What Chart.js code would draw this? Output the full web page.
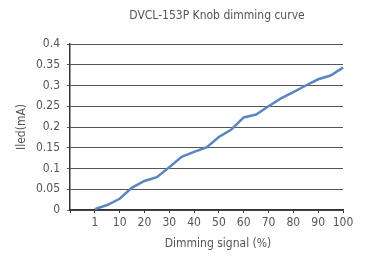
<!DOCTYPE html>
<html lang="en">
<head>
    <meta charset="UTF-8">
    <title>DVCL-153P Knob dimming curve</title>
    <script src="https://cdn.jsdelivr.net/npm/chart.js"></script>
    <style>
        html, body { margin: 0; padding: 0; background: #fff; }
        .chart-container { width: 365px; height: 258px; }
    </style>
</head>
<body>
    <div class="chart-container">
        <canvas id="dimmingChart"></canvas>
    </div>

    <script>
        // Dimming signal (%) and LED current (mA)
        const signalLabels = ['1', '5', '10', '15', '20', '25', '30', '35', '40', '45', '50',
                              '55', '60', '65', '70', '75', '80', '85', '90', '95', '100'];
        const iledValues = [0.002, 0.012, 0.027, 0.054, 0.070, 0.079, 0.103, 0.128, 0.140, 0.151, 0.176,
                            0.194, 0.223, 0.230, 0.250, 0.269, 0.284, 0.300, 0.315, 0.324, 0.343];
        const yTicks = [0, 0.05, 0.1, 0.15, 0.2, 0.25, 0.3, 0.35, 0.4];

        const fontFamily = "'DejaVu Sans Condensed', 'Liberation Sans Narrow', sans-serif";
        const textColor = '#555';

        // axis starts two slots before "1"
        const labels = ['', ''].concat(signalLabels);
        const data = [null, null].concat(iledValues);

        // chart title + x axis title, centred like the original
        const titlesPlugin = {
            id: 'titles',
            afterDraw(chart) {
                const ctx = chart.ctx;
                ctx.save();
                ctx.fillStyle = textColor;
                ctx.textAlign = 'center';
                ctx.textBaseline = 'middle';
                ctx.font = '12px ' + fontFamily;
                ctx.fillText('DVCL-153P Knob dimming curve', 217, 16);
                ctx.fillText('Dimming signal (%)', 218, 244);
                ctx.restore();
            }
        };

        const ctx = document.getElementById('dimmingChart').getContext('2d');
        const dimmingChart = new Chart(ctx, {
            type: 'line',
            data: {
                labels: labels,
                datasets: [{
                    label: 'Iled',
                    data: data,
                    borderColor: '#5a86bf',
                    borderWidth: 2.5,
                    pointRadius: 0,
                    tension: 0,
                    fill: false,
                }]
            },
            plugins: [titlesPlugin],
            options: {
                responsive: true,
                maintainAspectRatio: false,
                animation: false,
                layout: { padding: { top: 44, right: 22, left: 0, bottom: 0 } },
                plugins: {
                    legend: { display: false },
                    tooltip: { enabled: false },
                },
                scales: {
                    x: {
                        offset: false,
                        afterFit(scale) { scale.height = 48; },
                        border: { color: '#333', width: 1.5 },
                        grid: {
                            drawOnChartArea: false,
                            drawTicks: true,
                            tickLength: 3,
                            tickColor: c => (c.index % 2 === 0 ? '#333' : 'rgba(0,0,0,0)'),
                        },
                        ticks: {
                            autoSkip: false,
                            maxRotation: 0,
                            padding: 3,
                            color: textColor,
                            font: { family: fontFamily, size: 12 },
                            callback: function (val, i) {
                                return i % 2 === 0 ? this.getLabelForValue(val) : '';
                            }
                        }
                    },
                    y: {
                        min: 0,
                        max: 0.4,
                        afterFit(scale) { scale.width = 70; },
                        afterBuildTicks(scale) {
                            scale.ticks = yTicks.map(v => ({ value: v }));
                        },
                        border: { color: '#333', width: 1.5 },
                        grid: {
                            color: '#555',
                            lineWidth: 1,
                            tickLength: 3,
                        },
                        ticks: {
                            padding: 7,
                            color: textColor,
                            font: { family: fontFamily, size: 12 },
                            callback: v => String(+v.toFixed(2))
                        },
                        title: {
                            display: true,
                            text: 'Iled(mA)',
                            color: textColor,
                            font: { family: fontFamily, size: 12 },
                            padding: { top: 15, bottom: 0 }
                        }
                    }
                }
            }
        });
    </script>
</body>
</html>
